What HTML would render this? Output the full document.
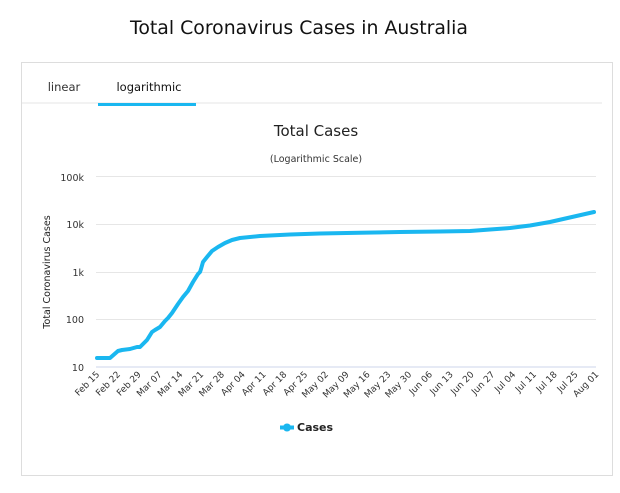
<!DOCTYPE html>
<html><head><style>
body{margin:0;background:#fff;font-family:"Liberation Sans","DejaVu Sans",sans-serif;}
</style></head><body>
<svg width="620" height="488" xmlns="http://www.w3.org/2000/svg" font-family="DejaVu Sans, Liberation Sans, sans-serif">
<text x="299" y="34" text-anchor="middle" font-size="19" fill="#111" textLength="338" lengthAdjust="spacingAndGlyphs">Total Coronavirus Cases in Australia</text>
<rect x="21.5" y="62.5" width="591" height="413" fill="#fff" stroke="#ddd"/>
<line x1="22" y1="103" x2="602" y2="103" stroke="#eee" stroke-width="1.5"/>
<text x="64" y="91" text-anchor="middle" font-size="11.5" fill="#333">linear</text>
<text x="149" y="91" text-anchor="middle" font-size="11.5" fill="#111">logarithmic</text>
<rect x="98" y="103" width="98" height="3" fill="#1ab7f0"/>
<text x="316" y="136" text-anchor="middle" font-size="15" fill="#222">Total Cases</text>
<text x="316" y="162" text-anchor="middle" font-size="9.5" fill="#333">(Logarithmic Scale)</text>
<g stroke="#e6e6e6" stroke-width="1">
<line x1="96" y1="176.5" x2="596" y2="176.5"/>
<line x1="96" y1="224.5" x2="596" y2="224.5"/>
<line x1="96" y1="272.5" x2="596" y2="272.5"/>
<line x1="96" y1="319.5" x2="596" y2="319.5"/>
</g>
<line x1="96" y1="367" x2="596" y2="367" stroke="#ccd6eb"/>
<g font-size="9.5" fill="#333" text-anchor="end">
<text x="84" y="181">100k</text><text x="84" y="228">10k</text><text x="84" y="276">1k</text><text x="84" y="323">100</text><text x="84" y="371">10</text>
</g>
<text transform="translate(50,272) rotate(-90)" text-anchor="middle" font-size="9.5" fill="#222">Total Coronavirus Cases</text>
<polyline fill="none" stroke="#1ab7f0" stroke-width="4" stroke-linejoin="round" stroke-linecap="round" points="97,358 110,358 118,351 122,350 130,349 137,347 140,347 147,340 152,332 155,330 160,327 165,321 168,318 172,313 178,304 183,297 188,291 193,282 198,274 200,272 201,269 203,262 207,257 212,251 218,247 225,243 232,240 240,238 260,236 290,234.5 320,233.5 360,232.8 400,232 440,231.5 470,231 490,229.5 510,228 530,225.5 550,222 572,217 594,212"/>
<g font-size="9" fill="#333" text-anchor="end">
<text transform="translate(100,375) rotate(-45)">Feb 15</text>
<text transform="translate(120.8,375) rotate(-45)">Feb 22</text>
<text transform="translate(141.6,375) rotate(-45)">Feb 29</text>
<text transform="translate(162.4,375) rotate(-45)">Mar 07</text>
<text transform="translate(183.2,375) rotate(-45)">Mar 14</text>
<text transform="translate(204,375) rotate(-45)">Mar 21</text>
<text transform="translate(224.8,375) rotate(-45)">Mar 28</text>
<text transform="translate(245.6,375) rotate(-45)">Apr 04</text>
<text transform="translate(266.4,375) rotate(-45)">Apr 11</text>
<text transform="translate(287.2,375) rotate(-45)">Apr 18</text>
<text transform="translate(308,375) rotate(-45)">Apr 25</text>
<text transform="translate(328.8,375) rotate(-45)">May 02</text>
<text transform="translate(349.6,375) rotate(-45)">May 09</text>
<text transform="translate(370.4,375) rotate(-45)">May 16</text>
<text transform="translate(391.2,375) rotate(-45)">May 23</text>
<text transform="translate(412,375) rotate(-45)">May 30</text>
<text transform="translate(432.8,375) rotate(-45)">Jun 06</text>
<text transform="translate(453.6,375) rotate(-45)">Jun 13</text>
<text transform="translate(474.4,375) rotate(-45)">Jun 20</text>
<text transform="translate(495.2,375) rotate(-45)">Jun 27</text>
<text transform="translate(516,375) rotate(-45)">Jul 04</text>
<text transform="translate(536.8,375) rotate(-45)">Jul 11</text>
<text transform="translate(557.6,375) rotate(-45)">Jul 18</text>
<text transform="translate(578.4,375) rotate(-45)">Jul 25</text>
<text transform="translate(599.2,375) rotate(-45)">Aug 01</text>
</g>
<line x1="280" y1="427.5" x2="294" y2="427.5" stroke="#1ab7f0" stroke-width="4"/>
<circle cx="287" cy="427.5" r="4" fill="#1ab7f0"/>
<text x="297" y="431" font-size="11" font-weight="bold" fill="#222">Cases</text>
</svg>
</body></html>
